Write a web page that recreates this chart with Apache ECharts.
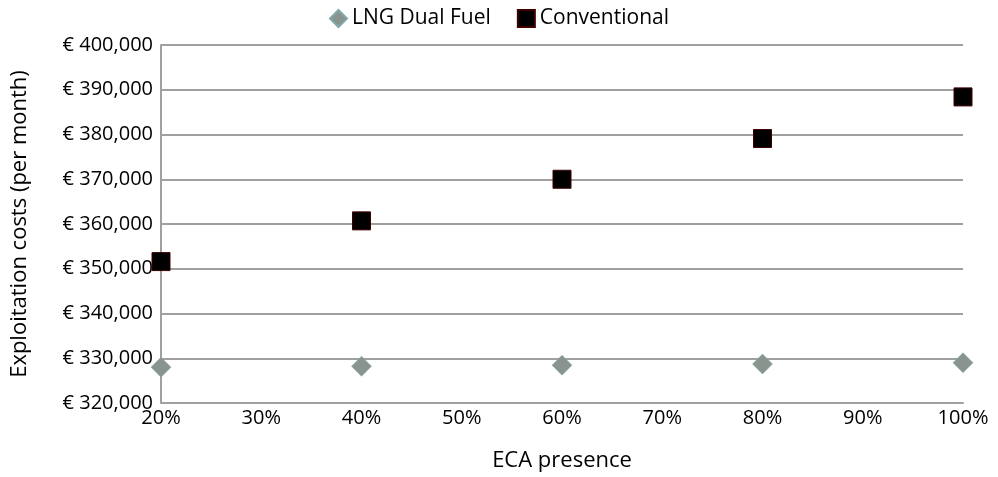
<!DOCTYPE html>
<html><head><meta charset="utf-8">
<script src="https://cdn.jsdelivr.net/npm/echarts@6/dist/echarts.min.js"></script>
<style>html,body{margin:0;padding:0;background:#fff}#c{width:998px;height:477px}</style>
</head><body><div id="c"></div>
<script>
const ecaPresence = [20, 40, 60, 80, 100];
const lngDualFuel = [328000, 328200, 328450, 328700, 329000];
const conventional = [351600, 360700, 370000, 379100, 388400];
const yTicks = [320000, 330000, 340000, 350000, 360000, 370000, 380000, 390000, 400000];
const xTicks = [20, 30, 40, 50, 60, 70, 80, 90, 100];

const FONT = '"Open Sans", sans-serif';
const W = 500;
const chart = echarts.init(document.getElementById('c'));
const fmtY = v => '€ ' + v.toLocaleString('en-US');
chart.setOption({
  animation: false,
  textStyle: {fontFamily: FONT},
  grid: {left: 161, right: 35, top: 45, bottom: 71},
  legend: {
    top: 3, left: 'center', itemGap: 26, itemWidth: 17, itemHeight: 17,
    textStyle: {fontSize: 21, color: '#000', fontFamily: FONT, fontWeight: W},
    data: [{name: 'LNG Dual Fuel', icon: 'diamond'}, {name: 'Conventional', icon: 'rect'}]
  },
  xAxis: {
    type: 'value', min: 20, max: 100, interval: 10,
    name: 'ECA presence', nameLocation: 'middle', nameGap: 47,
    nameTextStyle: {fontSize: 22, color: '#000', fontFamily: FONT, fontWeight: W},
    axisLine: {show: true, lineStyle: {color: '#a0a0a0', width: 2}},
    axisTick: {show: false}, splitLine: {show: false},
    axisLabel: {fontSize: 20, color: '#000', margin: 5, fontWeight: W, formatter: v => v + '%'}
  },
  yAxis: {
    type: 'value', min: 320000, max: 400000, interval: 10000,
    name: 'Exploitation costs (per month)', nameLocation: 'middle', nameGap: 130, nameRotate: 90,
    nameTextStyle: {fontSize: 22, color: '#000', fontFamily: FONT, fontWeight: W},
    axisLine: {show: true, lineStyle: {color: '#a0a0a0', width: 2}},
    axisTick: {show: false},
    splitLine: {show: true, lineStyle: {color: '#a0a0a0', width: 2}},
    axisLabel: {fontSize: 20, color: '#000', margin: 8, fontWeight: W, formatter: fmtY}
  },
  series: [
    {name: 'LNG Dual Fuel', type: 'scatter', symbol: 'diamond', symbolSize: 20,
     itemStyle: {color: '#8a948e', borderColor: '#7fa8a8', borderWidth: 0.5, opacity: 1},
     data: ecaPresence.map((x, i) => [x, lngDualFuel[i]])},
    {name: 'Conventional', type: 'scatter', symbol: 'rect', symbolSize: 18,
     itemStyle: {color: '#000', borderColor: '#400000', borderWidth: 1, opacity: 1},
     data: ecaPresence.map((x, i) => [x, conventional[i]])}
  ]
});
</script></body></html>
